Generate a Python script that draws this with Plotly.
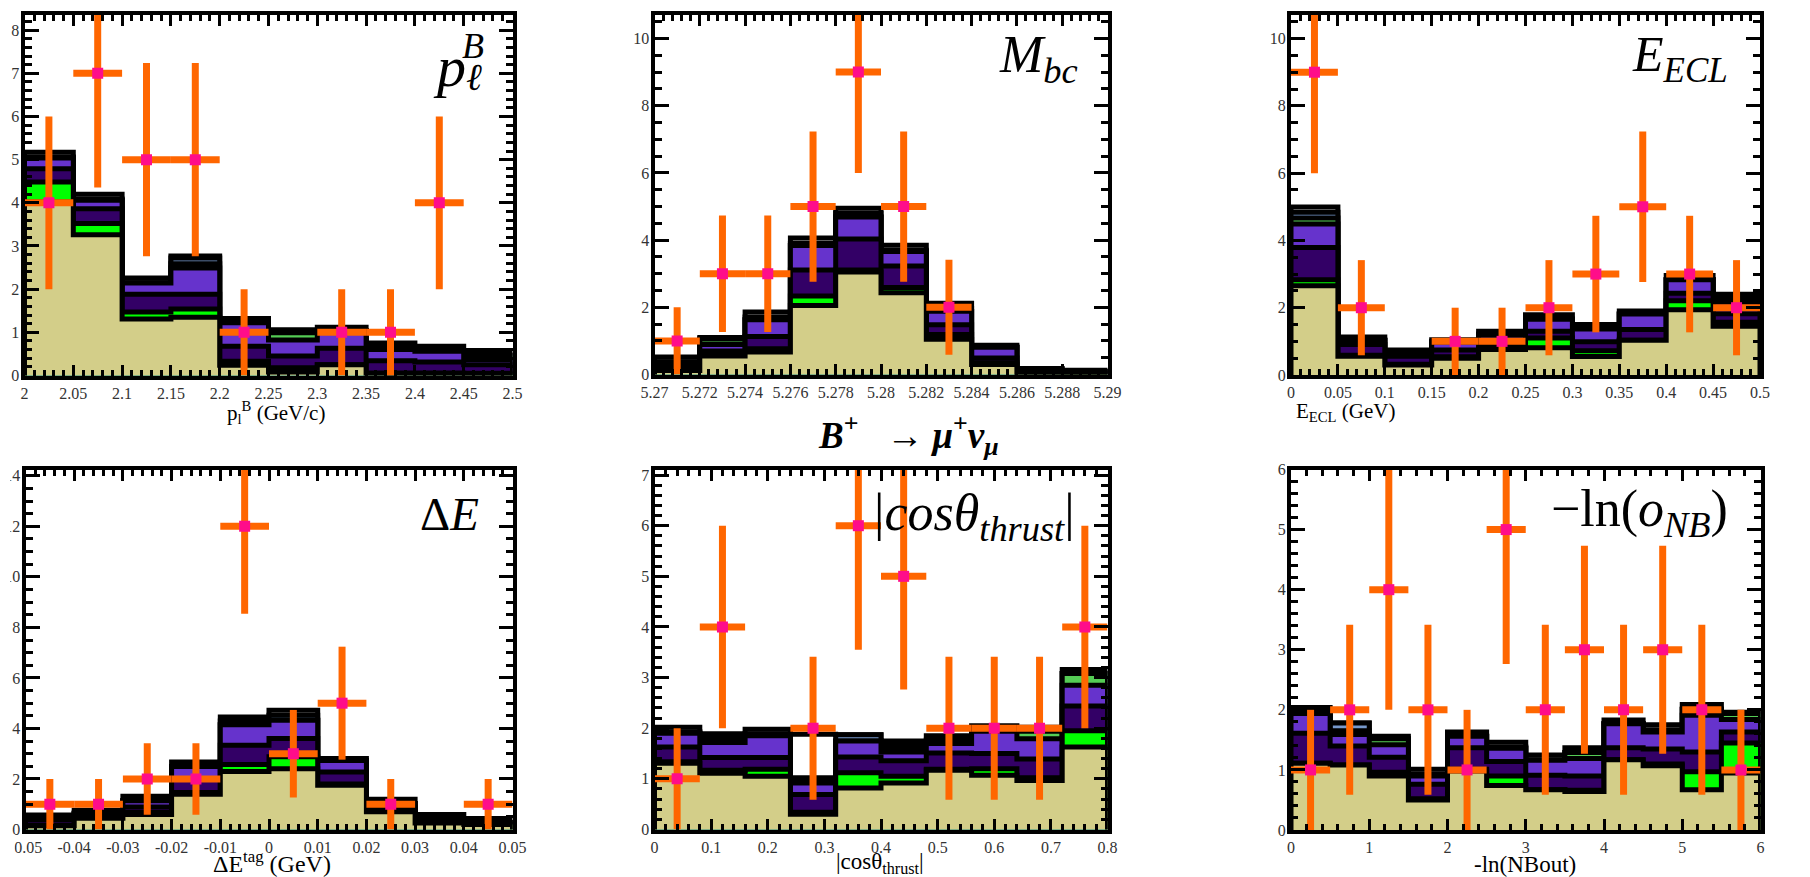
import numpy as np
import plotly.graph_objects as go

W, H = 1810, 877

# Stack components, bottom to top
ORDER = ["khaki", "green", "dpurple", "purple", "lgreen", "lblue", "other"]
COLORS = {
    "khaki": "#d3ce89",
    "green": "#00ff00",
    "dpurple": "#330066",
    "purple": "#6633cc",
    "lgreen": "#55cc55",
    "lblue": "#7799cc",
    "other": "#ffffff",
}

# ---------------- p_l^B ----------------
pl_edges = np.linspace(2.0, 2.5, 11)
pl_data = [4, 7, 5, 5, 1, 0, 1, 1, 4, 0]
pl_khaki = [4.02, 3.26, 1.31, 1.35, 0.24, 0.08, 0.25, 0.03, 0.03, 0.02]
pl_green = [0.46, 0.26, 0.16, 0.19, 0.09, 0.10, 0.00, 0.03, 0.03, 0.03]
pl_dpurple = [0.31, 0.34, 0.41, 0.34, 0.35, 0.27, 0.38, 0.28, 0.25, 0.20]
pl_purple = [0.25, 0.20, 0.26, 0.61, 0.54, 0.37, 0.41, 0.26, 0.25, 0.12]
pl_lgreen = [0.00, 0.00, 0.00, 0.10, 0.00, 0.17, 0.00, 0.00, 0.00, 0.10]
pl_lblue = [0.02, 0.03, 0.01, 0.13, 0.00, 0.00, 0.00, 0.05, 0.02, 0.00]
pl_other = [0.11, 0.11, 0.11, 0.05, 0.10, 0.07, 0.08, 0.105, 0.10, 0.11]

# ---------------- M_bc ----------------
mbc_edges = np.linspace(5.27, 5.29, 11)
mbc_data = [1, 3, 3, 5, 9, 5, 2, 0, 0, 0]
mbc_khaki = [0.12, 0.55, 0.67, 2.05, 3.05, 2.43, 1.05, 0.30, 0.03, 0.02]
mbc_green = [0.05, 0.04, 0.10, 0.29, 0.06, 0.16, 0.14, 0.05, 0.00, 0.00]
mbc_dpurple = [0.10, 0.11, 0.36, 0.77, 0.92, 0.64, 0.29, 0.14, 0.05, 0.04]
mbc_purple = [0.10, 0.19, 0.50, 0.73, 0.66, 0.43, 0.40, 0.32, 0.05, 0.03]
mbc_lgreen = [0.00, 0.17, 0.00, 0.00, 0.00, 0.00, 0.00, 0.00, 0.00, 0.00]
mbc_lblue = [0.00, 0.00, 0.08, 0.07, 0.11, 0.04, 0.09, 0.00, 0.00, 0.00]
mbc_other = [0.15, 0.04, 0.15, 0.15, 0.15, 0.15, 0.15, 0.06, 0.05, 0.04]

# ---------------- E_ECL ----------------
eecl_edges = np.linspace(0.0, 0.5, 11)
eecl_data = [9, 2, 0, 1, 1, 2, 3, 5, 3, 2]
eecl_khaki = [2.65, 0.56, 0.30, 0.50, 0.76, 0.81, 0.55, 1.03, 1.94, 1.45]
eecl_green = [0.18, 0.03, 0.02, 0.04, 0.02, 0.29, 0.17, 0.00, 0.27, 0.12]
eecl_dpurple = [0.96, 0.32, 0.24, 0.20, 0.12, 0.20, 0.27, 0.32, 0.22, 0.25]
eecl_purple = [0.70, 0.12, 0.08, 0.24, 0.28, 0.36, 0.38, 0.46, 0.40, 0.34]
eecl_lgreen = [0.18, 0.00, 0.00, 0.00, 0.00, 0.00, 0.00, 0.00, 0.00, 0.14]
eecl_lblue = [0.17, 0.00, 0.00, 0.00, 0.04, 0.00, 0.00, 0.00, 0.00, 0.00]
eecl_other = [0.15, 0.10, 0.10, 0.07, 0.08, 0.13, 0.13, 0.09, 0.13, 0.10]

# ---------------- Delta E ----------------
de_edges = np.linspace(-0.05, 0.05, 11)
de_data = [1, 1, 2, 2, 12, 3, 5, 1, 0, 1]
de_khaki = [0.15, 0.45, 0.59, 1.40, 2.30, 2.40, 1.75, 0.70, 0.26, 0.20]
de_green = [0.03, 0.03, 0.08, 0.06, 0.27, 0.48, 0.05, 0.03, 0.00, 0.00]
de_dpurple = [0.22, 0.10, 0.22, 0.55, 0.76, 0.72, 0.48, 0.15, 0.10, 0.08]
de_purple = [0.00, 0.06, 0.25, 0.48, 0.82, 0.72, 0.45, 0.15, 0.06, 0.00]
de_lgreen = [0.00, 0.00, 0.00, 0.00, 0.00, 0.00, 0.00, 0.00, 0.00, 0.00]
de_lblue = [0.00, 0.00, 0.00, 0.00, 0.14, 0.20, 0.00, 0.00, 0.00, 0.00]
de_other = [0.17, 0.12, 0.18, 0.18, 0.16, 0.20, 0.08, 0.17, 0.17, 0.16]

# ---------------- |cos theta_thrust| ----------------
ct_edges = np.linspace(0.0, 0.8, 11)
ct_data = [1, 4, 0, 2, 6, 5, 2, 2, 2, 4]
ct_khaki = [1.31, 1.11, 1.05, 0.30, 0.82, 0.92, 1.17, 1.07, 0.97, 1.63]
ct_green = [0.03, 0.06, 0.14, 0.04, 0.30, 0.13, 0.02, 0.13, 0.05, 0.32]
ct_dpurple = [0.29, 0.25, 0.23, 0.35, 0.31, 0.31, 0.32, 0.30, 0.37, 0.49]
ct_purple = [0.27, 0.30, 0.43, 0.23, 0.32, 0.17, 0.19, 0.44, 0.40, 0.41]
ct_lgreen = [0.00, 0.00, 0.00, 0.05, 0.00, 0.04, 0.00, 0.00, 0.15, 0.23]
ct_lblue = [0.03, 0.08, 0.04, 0.05, 0.12, 0.09, 0.07, 0.02, 0.00, 0.00]
ct_other = [0.09, 0.09, 0.09, 0.86, 0.00, 0.09, 0.08, 0.09, 0.08, 0.08]

# ---------------- -ln(NBout) ----------------
nb_edges = np.linspace(0.0, 6.0, 13)
nb_data = [1, 2, 4, 2, 1, 5, 2, 3, 2, 3, 2, 1]
nb_khaki = [1.11, 1.08, 0.90, 0.50, 0.98, 0.74, 0.67, 0.64, 1.17, 1.07, 0.67, 0.95]
nb_green = [0.00, 0.00, 0.06, 0.02, 0.03, 0.16, 0.00, 0.02, 0.00, 0.03, 0.30, 0.50]
nb_dpurple = [0.50, 0.32, 0.25, 0.24, 0.36, 0.24, 0.24, 0.24, 0.20, 0.25, 0.33, 0.18]
nb_purple = [0.33, 0.19, 0.21, 0.14, 0.19, 0.22, 0.25, 0.29, 0.40, 0.28, 0.61, 0.21]
nb_lgreen = [0.00, 0.06, 0.10, 0.00, 0.00, 0.00, 0.00, 0.10, 0.00, 0.00, 0.10, 0.10]
nb_lblue = [0.02, 0.13, 0.00, 0.03, 0.00, 0.02, 0.01, 0.00, 0.00, 0.04, 0.00, 0.00]
nb_other = [0.08, 0.00, 0.04, 0.08, 0.07, 0.08, 0.08, 0.08, 0.06, 0.08, 0.08, 0.02]


def fmt_tick(v):
    s = ("%.4f" % v).rstrip("0").rstrip(".")
    return "0" if s in ("-0", "") else s


panels = [
    dict(edges=pl_edges, data=pl_data,
         stack=[pl_khaki, pl_green, pl_dpurple, pl_purple, pl_lgreen, pl_lblue, pl_other],
         ymax=8.35, xd=0.05, xm=0.01, yd=1, ym=0.2, box=(24.5, 15, 512.5, 375.5)),
    dict(edges=mbc_edges, data=mbc_data,
         stack=[mbc_khaki, mbc_green, mbc_dpurple, mbc_purple, mbc_lgreen, mbc_lblue, mbc_other],
         ymax=10.7, xd=0.002, xm=0.0004, yd=2, ym=0.5, box=(654.5, 15, 1107.5, 374.5)),
    dict(edges=eecl_edges, data=eecl_data,
         stack=[eecl_khaki, eecl_green, eecl_dpurple, eecl_purple, eecl_lgreen, eecl_lblue, eecl_other],
         ymax=10.7, xd=0.05, xm=0.01, yd=2, ym=0.5, box=(1291, 15, 1760, 375)),
    dict(edges=de_edges, data=de_data,
         stack=[de_khaki, de_green, de_dpurple, de_purple, de_lgreen, de_lblue, de_other],
         ymax=14.25, xd=0.01, xm=0.002, yd=2, ym=0.5, box=(25.5, 469.5, 512.5, 829.5)),
    dict(edges=ct_edges, data=ct_data,
         stack=[ct_khaki, ct_green, ct_dpurple, ct_purple, ct_lgreen, ct_lblue, ct_other],
         ymax=7.1, xd=0.1, xm=0.02, yd=1, ym=0.2, box=(654.5, 470, 1107.5, 829.5)),
    dict(edges=nb_edges, data=nb_data,
         stack=[nb_khaki, nb_green, nb_dpurple, nb_purple, nb_lgreen, nb_lblue, nb_other],
         ymax=6.0, xd=1, xm=0.2, yd=1, ym=0.2, box=(1291, 469.5, 1760.5, 830)),
]

fig = go.Figure()
layout = dict(
    width=W, height=H, margin=dict(l=0, r=0, t=0, b=0, autoexpand=False),
    paper_bgcolor="white", plot_bgcolor="white", showlegend=False,
)

TICKFONT = dict(family="Liberation Serif", size=16, color="#333333")

for i, p in enumerate(panels):
    sfx = "" if i == 0 else str(i + 1)
    xref, yref = "x" + sfx, "y" + sfx
    edges = np.asarray(p["edges"], dtype=float)
    cum = np.cumsum(np.asarray(p["stack"], dtype=float), axis=0)

    # cumulative step outlines, drawn from the full stack down to the lowest component
    xs = np.concatenate([[edges[0]], edges[:-1], [edges[-1], edges[-1]]])
    for k in range(len(ORDER) - 1, -1, -1):
        ys = np.concatenate([[0.0], cum[k], [cum[k][-1], 0.0]])
        fig.add_trace(go.Scatter(
            x=xs, y=ys, xaxis=xref, yaxis=yref, mode="lines",
            line=dict(color="black", width=5, shape="hv"),
            fill="tozeroy", fillcolor=COLORS[ORDER[k]],
            hoverinfo="skip",
        ))

    # data points with statistical errors
    counts = np.asarray(p["data"], dtype=float)
    centers = 0.5 * (edges[:-1] + edges[1:])
    halfw = 0.5 * (edges[1:] - edges[:-1])
    sel = counts > 0
    fig.add_trace(go.Scatter(
        x=centers[sel], y=counts[sel], xaxis=xref, yaxis=yref, mode="markers",
        marker=dict(symbol="square", size=11, color="#ff0d8a", line=dict(width=0)),
        error_y=dict(type="data", array=np.sqrt(counts[sel]), color="#ff6600",
                     thickness=7, width=0),
        error_x=dict(type="data", array=halfw[sel], color="#ff6600",
                     thickness=7, width=0),
        hoverinfo="skip",
    ))

    x0, y0, x1, y1 = p["box"]
    tickvals = np.arange(edges[0], edges[-1] + p["xd"] / 2, p["xd"])
    layout["xaxis" + sfx] = dict(
        domain=[x0 / W, x1 / W], anchor=yref, range=[edges[0], edges[-1]],
        automargin=False,
        showline=True, linewidth=4, linecolor="black", mirror="allticks",
        ticks="inside", ticklen=11, tickwidth=3, tickcolor="black",
        tickvals=tickvals, ticktext=[fmt_tick(v) for v in tickvals],
        minor=dict(dtick=p["xm"], tick0=edges[0], ticks="inside", ticklen=6,
                   tickwidth=3, tickcolor="black"),
        showgrid=False, zeroline=False, tickfont=TICKFONT,
    )
    layout["yaxis" + sfx] = dict(
        domain=[1 - y1 / H, 1 - y0 / H], anchor=xref, range=[0, p["ymax"]],
        automargin=False, ticklabelstandoff=-2,
        showline=True, linewidth=4, linecolor="black", mirror="allticks",
        ticks="inside", ticklen=14, tickwidth=3, tickcolor="black",
        dtick=p["yd"], tick0=0,
        minor=dict(dtick=p["ym"], tick0=0, ticks="inside", ticklen=7,
                   tickwidth=3, tickcolor="black"),
        showgrid=False, zeroline=False, tickfont=TICKFONT,
    )


def ann(text, x, y, size, xanchor="center", yanchor="middle", family="Liberation Serif"):
    return dict(text=text, x=x / W, y=1 - y / H, xref="paper", yref="paper",
                xanchor=xanchor, yanchor=yanchor, showarrow=False,
                font=dict(family=family, size=size, color="black"))


annotations = [
    # panel labels
    ann("<i>p</i>", 431, 66, 58, xanchor="left"),
    ann("<i>ℓ</i>", 474, 77, 38),
    ann("<i>B</i>", 473, 46, 36),
    ann("<i>M</i><sub><i>bc</i></sub>", 1080, 58, 52, xanchor="right"),
    ann("<i>E</i><sub><i>ECL</i></sub>", 1730, 58, 50, xanchor="right"),
    ann("Δ<i>E</i>", 481, 514, 47, xanchor="right"),
    ann("|<i>cosθ</i><sub><i>thrust</i></sub>|", 1077, 516, 52, xanchor="right"),
    ann("−ln(<i>o</i><sub><i>NB</i></sub>)", 1730, 512, 52, xanchor="right"),
    # axis titles
    ann("p<sub>l</sub><sup>B</sup> (GeV/c)", 276, 412, 21),
    ann("E<sub>ECL</sub> (GeV)", 1345, 412, 21),
    ann("ΔE<sup>tag</sup> (GeV)", 272, 862, 24),
    ann("|cosθ<sub>thrust</sub>|", 880, 863, 23),
    ann("-ln(NBout)", 1525, 864, 23),
    # channel title
    ann("<b><i>B</i><sup>+</sup>&nbsp;&nbsp; → <i>μ</i><sup>+</sup><i>ν</i><sub><i>μ</i></sub></b>",
        908, 435, 37),
]
layout["annotations"] = annotations

# the composite is trimmed on its left edge
layout["shapes"] = [
    dict(type="rect", xref="paper", yref="paper", layer="above",
         x0=0, x1=10 / W, y0=0, y1=1 - 450 / H,
         fillcolor="white", line=dict(width=0)),
    dict(type="rect", xref="paper", yref="paper", layer="above",
         x0=0, x1=14.5 / W, y0=1 - 858 / H, y1=1 - 834 / H,
         fillcolor="white", line=dict(width=0)),
]

fig.update_layout(**layout)
fig.write_html("out.html")
